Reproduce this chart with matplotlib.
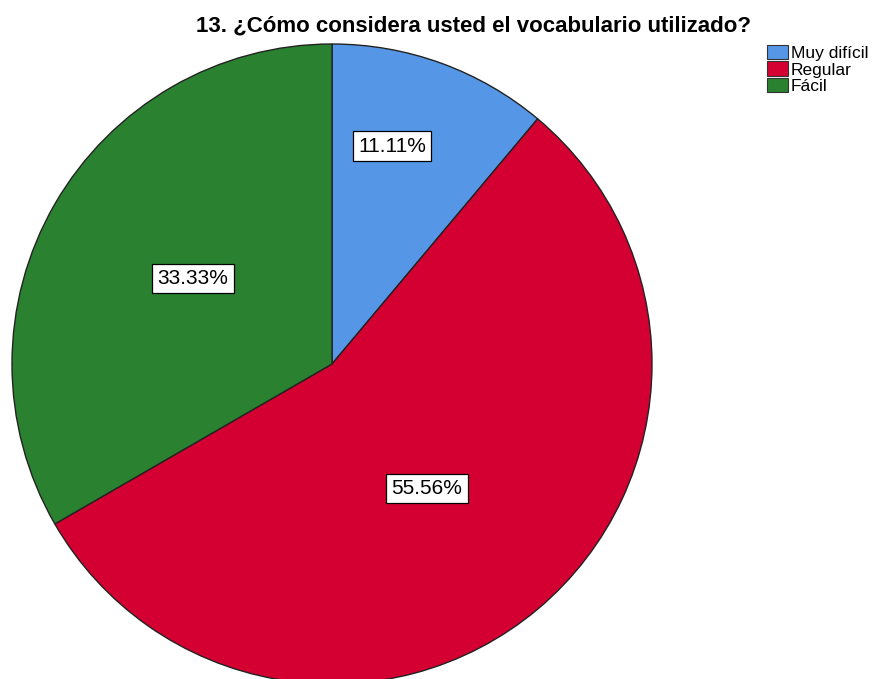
import numpy as np
import matplotlib.pyplot as plt
from matplotlib.patches import Patch

categorias = ["Muy difícil", "Regular", "Fácil"]
porcentajes = [11.11, 55.56, 33.33]
colores = ["#5597E6", "#D50032", "#2A8230"]
# posición de cada etiqueta: distancia relativa al centro y giro respecto al ángulo medio
dist_etiqueta = [0.706, 0.49, 0.51]
giro_etiqueta = [4.6, -2.7, -1.6]

plt.rcParams['font.family'] = ['Liberation Sans', 'DejaVu Sans']

fig = plt.figure(figsize=(8.75, 6.79), dpi=100)
ax = fig.add_axes([0, 0, 1, 1])

centro = (332, 315)
radio = 320
wedges, _ = ax.pie(porcentajes, colors=colores, startangle=90, counterclock=False,
                   center=centro, radius=radio, frame=True,
                   wedgeprops=dict(edgecolor='#222222', linewidth=1.0))
ax.set_xlim(0, 875)
ax.set_ylim(0, 679)
ax.set_aspect('equal')
ax.axis('off')

for w, p, d, g in zip(wedges, porcentajes, dist_etiqueta, giro_etiqueta):
    ang = np.deg2rad((w.theta1 + w.theta2) / 2 + g)
    x = centro[0] + d * radio * np.cos(ang)
    y = centro[1] + d * radio * np.sin(ang)
    ax.text(x, y, f"{p:.2f}%", ha='center', va='center', fontsize=15,
            bbox=dict(boxstyle='square,pad=0.25', fc='white', ec='black', lw=0.9))

fig.text(0.541, 0.962, "13. ¿Cómo considera usted el vocabulario utilizado?",
         ha='center', va='center', fontsize=16, fontweight='bold')

handles = [Patch(facecolor=c, edgecolor='#333333', linewidth=0.8) for c in colores]
fig.legend(handles, categorias, loc='upper left', bbox_to_anchor=(0.877, 0.934),
           frameon=False, fontsize=12.5, handlelength=1.2, handleheight=0.9,
           handletextpad=0.15, labelspacing=0.02, borderpad=0, borderaxespad=0)

fig.savefig("out.png", dpi=100)
